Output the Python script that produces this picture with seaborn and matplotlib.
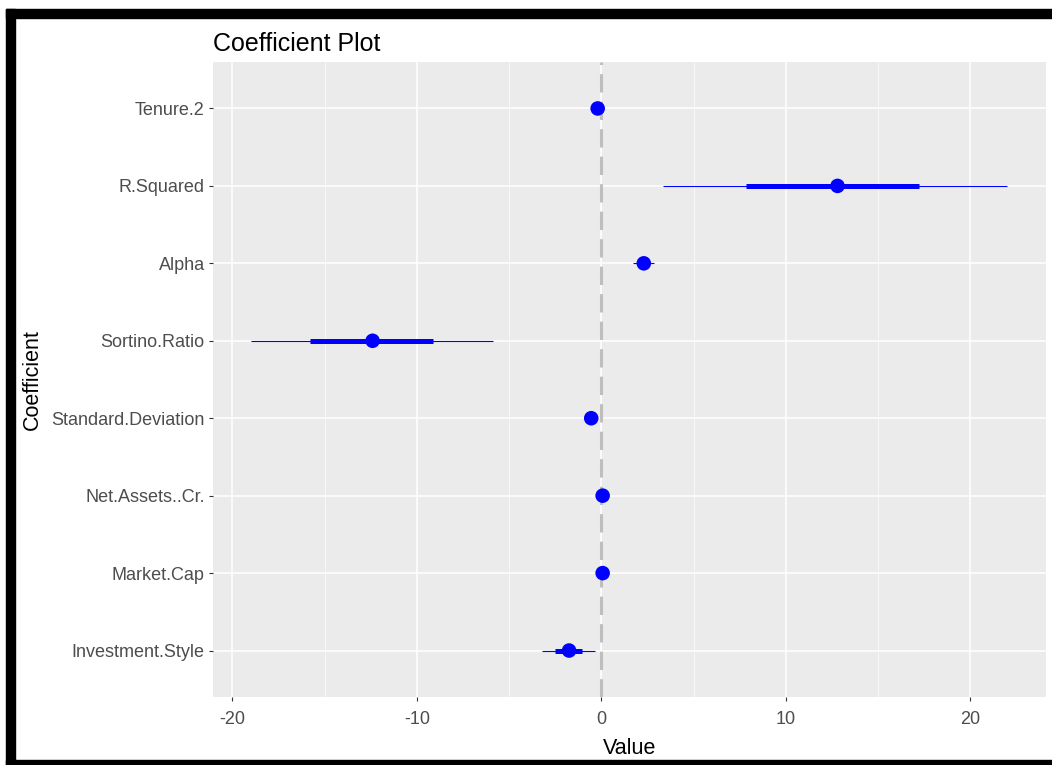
import numpy as np
import pandas as pd
import seaborn as sns
import matplotlib.pyplot as plt
from matplotlib.patches import Rectangle

# coefficient estimates
coefficients = ['Tenure.2', 'R.Squared', 'Alpha', 'Sortino.Ratio',
                'Standard.Deviation', 'Net.Assets..Cr.', 'Market.Cap', 'Investment.Style']
values = [-0.2, 12.8, 2.3, -12.4, -0.55, 0.07, 0.07, -1.75]
inner_low = [-0.2, 7.85, 1.95, -15.8, -0.6, 0.05, 0.05, -2.5]
inner_high = [-0.2, 17.2, 2.6, -9.1, -0.5, 0.09, 0.09, -1.05]
outer_low = [-0.25, 3.35, 1.7, -19.0, -0.65, 0.04, 0.04, -3.2]
outer_high = [-0.15, 22.0, 2.85, -5.85, -0.45, 0.1, 0.1, -0.35]

df = pd.DataFrame({'Coefficient': coefficients, 'Value': values,
                   'inner_low': inner_low, 'inner_high': inner_high,
                   'outer_low': outer_low, 'outer_high': outer_high})
df['pos'] = np.arange(len(df))

sns.set_theme(style="darkgrid", rc={
    'axes.facecolor': '#EBEBEB',
    'grid.color': 'white',
    'axes.edgecolor': '#EBEBEB',
})
plt.rcParams['font.family'] = ['Liberation Sans', 'DejaVu Sans']
plt.rcParams['axes.unicode_minus'] = False

fig = plt.figure(figsize=(10.52, 7.65), dpi=100)
ax = fig.add_axes([213 / 1052, 1 - 697 / 765, (1046 - 213) / 1052, (697 - 62) / 765])

# reference line at zero
ax.axvline(0, color='#BEBEBE', linewidth=2.2, linestyle=(0, (6, 3)), zorder=2)

# confidence intervals
ax.hlines(df['pos'], df['outer_low'], df['outer_high'], color='blue', linewidth=0.8, zorder=3)
ax.hlines(df['pos'], df['inner_low'], df['inner_high'], color='blue', linewidth=3.6, zorder=3)

sns.scatterplot(data=df, x='Value', y='pos', color='blue', s=110,
                edgecolor='none', ax=ax, zorder=4)

ax.set_xlim(-21.05, 24.1)
ax.set_ylim(len(df) - 1 + 0.6, -0.6)
ax.set_yticks(df['pos'])
ax.set_yticklabels(coefficients)
ax.set_xticks([-20, -10, 0, 10, 20])
ax.set_xticks([-15, -5, 5, 15], minor=True)
ax.grid(True, which='major', color='white', linewidth=1.1)
ax.grid(True, which='minor', axis='x', color='white', linewidth=0.5)
ax.tick_params(axis='both', which='major', length=3, width=0.8, color='#333333',
               labelcolor='#4D4D4D', labelsize=13, pad=3, direction='out')
ax.tick_params(axis='x', which='major', pad=7)
ax.tick_params(axis='both', which='minor', length=0)
ax.tick_params(left=True, bottom=True)
for s in ax.spines.values():
    s.set_visible(False)

ax.set_xlabel('Value', fontsize=15.5, color='black', labelpad=7)
ax.set_ylabel('Coefficient', fontsize=15.5, color='black', labelpad=6)
ax.set_title('Coefficient Plot', fontsize=18, color='black', loc='left', pad=8)

# black frame around the screenshot
W, H = 1052, 765
def frame(x0, y0, w, h):
    fig.add_artist(Rectangle((x0 / W, 1 - (y0 + h) / H), w / W, h / H,
                             transform=fig.transFigure, color='black', zorder=10))
frame(6, 9, W - 6, 9)
frame(6, 9, 9, H - 9)
frame(6, 760, W - 6, 5)

plt.savefig('out.png', dpi=100)
